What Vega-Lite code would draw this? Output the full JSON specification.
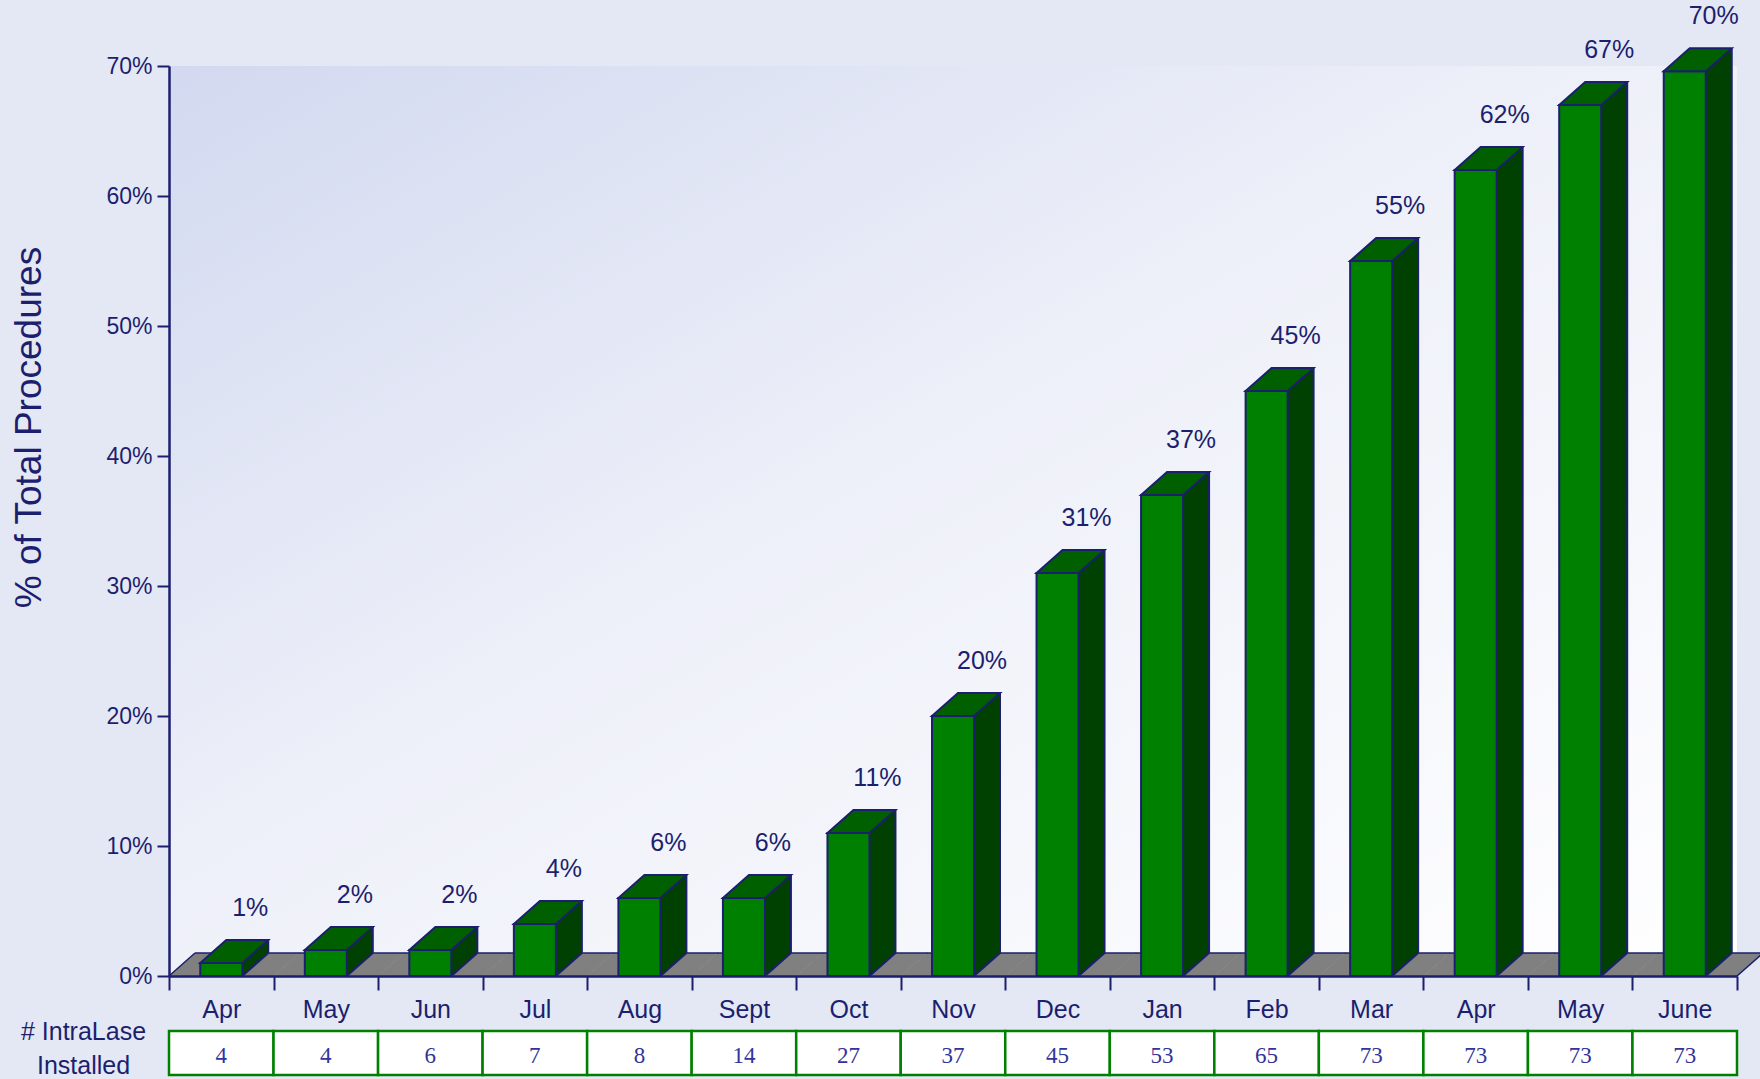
{
  "$schema": "https://vega.github.io/schema/vega-lite/v6.json",
  "width": 1568,
  "height": 910,
  "autosize": "none",
  "padding": {"left": 169, "top": 66, "right": 23, "bottom": 103},
  "background": "#e4e8f5",
  "config": {
    "font": "Liberation Sans",
    "view": {
      "stroke": null,
      "fill": {
        "gradient": "linear",
        "x1": 0, "y1": 0, "x2": 1, "y2": 1,
        "stops": [
          {"offset": 0, "color": "#d2d9f0"},
          {"offset": 0.45, "color": "#eef0f9"},
          {"offset": 1, "color": "#ffffff"}
        ]
      }
    }
  },
  "data": {
    "values": [
      {"id": "Apr 1", "v": 0.01, "installed": 4},
      {"id": "May 1", "v": 0.02, "installed": 4},
      {"id": "Jun", "v": 0.02, "installed": 6},
      {"id": "Jul", "v": 0.04, "installed": 7},
      {"id": "Aug", "v": 0.06, "installed": 8},
      {"id": "Sept", "v": 0.06, "installed": 14},
      {"id": "Oct", "v": 0.11, "installed": 27},
      {"id": "Nov", "v": 0.20, "installed": 37},
      {"id": "Dec", "v": 0.31, "installed": 45},
      {"id": "Jan", "v": 0.37, "installed": 53},
      {"id": "Feb", "v": 0.45, "installed": 65},
      {"id": "Mar", "v": 0.55, "installed": 73},
      {"id": "Apr 2", "v": 0.62, "installed": 73},
      {"id": "May 2", "v": 0.67, "installed": 73},
      {"id": "June", "v": 0.696, "installed": 73}
    ]
  },
  "encoding": {
    "x": {
      "field": "id",
      "type": "nominal",
      "sort": null,
      "scale": {"paddingInner": 0, "paddingOuter": 0},
      "axis": {
        "zindex": 1,
        "labelExpr": "datum.value ? split(datum.value, ' ')[0] : ''",
        "labelAngle": 0,
        "labelFontSize": 25,
        "labelColor": "#1c1f6e",
        "labelPadding": 7,
        "tickBand": "extent",
        "tickSize": 14,
        "tickWidth": 2,
        "tickColor": "#1c1f6e",
        "domainColor": "#1c1f6e",
        "domainWidth": 2.5,
        "title": ["# IntraLase", "Installed"],
        "titleFontSize": 25,
        "titleFontWeight": "normal",
        "titleColor": "#1c1f6e",
        "titleX": -86,
        "titleY": 55,
        "titleAlign": "center",
        "titleBaseline": "middle",
        "titleLineHeight": 34
      }
    },
    "y": {
      "field": "v",
      "type": "quantitative",
      "scale": {"domain": [0, 0.7], "nice": false, "zero": true},
      "axis": {
        "zindex": 1,
        "values": [0, 0.1, 0.2, 0.3, 0.4, 0.5, 0.6, 0.7],
        "format": ".0%",
        "grid": false,
        "labelFontSize": 23,
        "labelColor": "#1c1f6e",
        "labelPadding": 5,
        "tickSize": 12,
        "tickWidth": 2,
        "tickColor": "#1c1f6e",
        "domainColor": "#1c1f6e",
        "domainWidth": 2.5,
        "title": "% of Total Procedures",
        "titleFontSize": 37,
        "titleFontWeight": "normal",
        "titleColor": "#1c1f6e",
        "titleAngle": -90,
        "titleX": -140,
        "titleY": 361,
        "titleAlign": "center",
        "titleBaseline": "middle"
      }
    }
  },
  "layer": [
    {
      "mark": {"type": "point", "shape": "M -52.27 0 L 52.77 0 L 78.77 -23 L -26.27 -23 Z", "size": 4, "filled": true, "fill": "#808080", "opacity": 1, "strokeWidth": 0},
      "encoding": {"y": {"datum": 0, "type": "quantitative"}}
    },
    {
      "mark": {"type": "point", "shape": "M -26.27 -23 L 78.77 -23", "size": 4, "filled": false, "stroke": "#1c1f6e", "strokeWidth": 1.5, "opacity": 1},
      "encoding": {"y": {"datum": 0, "type": "quantitative"}}
    },
    {
      "transform": [{"filter": "datum.id == 'Apr 1'"}],
      "mark": {"type": "point", "shape": "M -52.27 0 L -26.27 -23", "size": 4, "filled": false, "stroke": "#1c1f6e", "strokeWidth": 1.5, "opacity": 1},
      "encoding": {"y": {"datum": 0, "type": "quantitative"}}
    },
    {
      "transform": [{"filter": "datum.id == 'June'"}],
      "mark": {"type": "point", "shape": "M 52.27 0 L 78.27 -23", "size": 4, "filled": false, "stroke": "#1c1f6e", "strokeWidth": 1.5, "opacity": 1},
      "encoding": {"y": {"datum": 0, "type": "quantitative"}}
    },
    {
      "mark": {"type": "bar", "width": 42, "xOffset": 26, "yOffset": -23, "y2Offset": -23, "fill": "#004000", "strokeWidth": 0}
    },
    {
      "mark": {"type": "point", "shape": "M 21 0 L 47 -23 L 21 -23 Z", "size": 4, "filled": true, "fill": "#004000", "opacity": 1, "strokeWidth": 0},
      "encoding": {"y": {"datum": 0, "type": "quantitative"}}
    },
    {
      "mark": {"type": "rule", "xOffset": 47, "yOffset": -23, "y2Offset": -23, "stroke": "#1c1f6e", "strokeWidth": 2},
      "encoding": {"y2": {"datum": 0}}
    },
    {
      "mark": {"type": "point", "shape": "M 21 0 L 47 -23", "size": 4, "filled": false, "stroke": "#1c1f6e", "strokeWidth": 2, "opacity": 1},
      "encoding": {"y": {"datum": 0, "type": "quantitative"}}
    },
    {
      "mark": {"type": "bar", "width": 42, "fill": "#008000", "stroke": "#1c1f6e", "strokeWidth": 2}
    },
    {
      "mark": {"type": "point", "shape": "M -21 0 L 21 0 L 47 -23 L 5 -23 Z", "size": 4, "filled": true, "fill": "#006000", "stroke": "#1c1f6e", "strokeWidth": 2, "opacity": 1}
    },
    {
      "mark": {"type": "text", "dx": 29, "dy": -55, "align": "center", "baseline": "middle", "fontSize": 25, "color": "#1c1f6e"},
      "encoding": {"text": {"field": "v", "type": "quantitative", "format": ".0%"}}
    },
    {
      "mark": {"type": "point", "shape": "M -52.27 55 L 52.27 55 L 52.27 99 L -52.27 99 Z", "size": 4, "filled": true, "fill": "#ffffff", "stroke": "#008000", "strokeWidth": 2.5, "opacity": 1},
      "encoding": {"y": {"datum": 0, "type": "quantitative"}}
    },
    {
      "mark": {"type": "text", "dy": 80, "align": "center", "baseline": "middle", "font": "Liberation Serif", "fontSize": 23, "color": "#333399"},
      "encoding": {
        "y": {"datum": 0, "type": "quantitative"},
        "text": {"field": "installed", "type": "quantitative"}
      }
    }
  ]
}
